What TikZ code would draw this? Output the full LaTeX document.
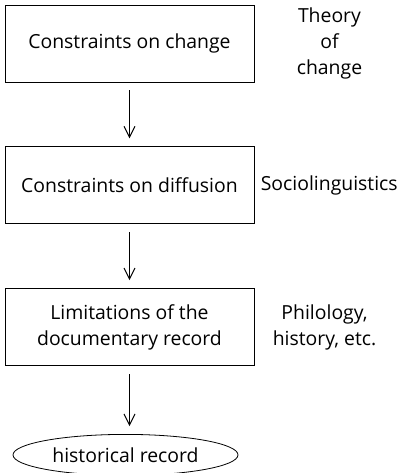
\documentclass[tikz,border=0pt]{standalone}
\usepackage{fontspec}
\setmainfont{Open Sans}
\usetikzlibrary{positioning,shapes,arrows.meta}
\tikzset{
	line width=0.55pt,
	stage/.style ={rectangle, draw, minimum width=124.5pt, minimum height=38.5pt, align=center, font=\fontsize{9.7}{13}\selectfont}, % the boxes of the chain
	outcome/.style = {ellipse, draw, minimum width=112.5pt, minimum height=20.5pt, inner sep=0pt, font=\fontsize{9.7}{13}\selectfont},
	field/.style = {inner sep=0pt, align=center, font=\fontsize{9.7}{13}\selectfont}, % the discipline names on the right
	flow/.style = {-{Straight Barb[length=5.5pt,width=5.5pt]}, line width=0.5pt, shorten <=4pt, shorten >=4pt}
}
\begin{document}
\begin{tikzpicture}[node distance = 32pt]
            \useasboundingbox (0,0) rectangle (200pt,-236.5pt);
            \node[stage] (change) at (64.75pt,-21.75pt) {Constraints on change};
            \node[stage] (diffusion) [below=of change] {Constraints on diffusion};
            \node[stage] (record) [below=of diffusion] {Limitations of the\\documentary record};
            \node[outcome] (historical) [below=34pt of record, xshift=-2pt] {historical record};
            \node[field] (theory) [right=21pt of change] {Theory\\of\\change};
            \node[field] (socio) [right=3pt of diffusion] {Sociolinguistics};
            \node[field] (philology) [right=9pt of record] {Philology,\\history, etc.};
            \draw[flow] (change) -- (diffusion);
            \draw[flow] (diffusion) -- (record);
            \draw[flow] (record.south) -- (record.south |- historical.north);
        \end{tikzpicture}
\end{document}
